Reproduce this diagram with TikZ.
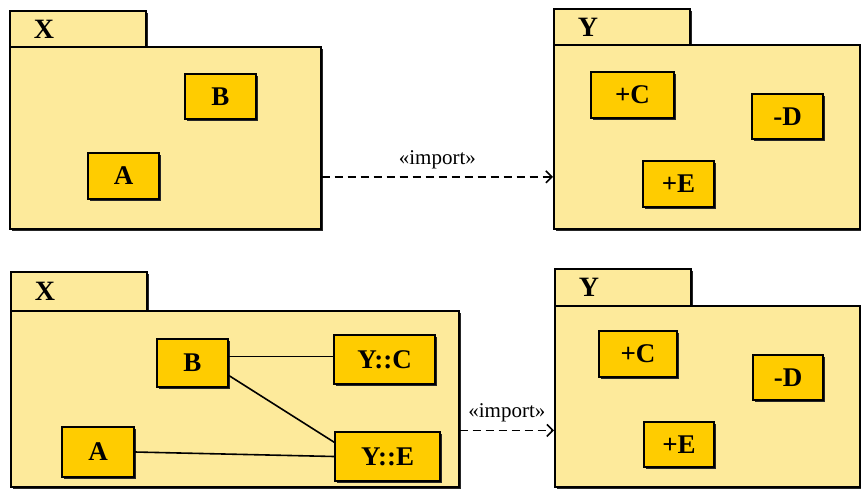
\documentclass[tikz,border=0pt]{standalone}
\usepackage{fontspec}
\setmainfont{Liberation Serif}
\usetikzlibrary{positioning, arrows.meta, shadows}
\definecolor{pkgfill}{RGB}{253,234,155}
\definecolor{clsfill}{RGB}{255,204,0}
\tikzset{
	shade box/.style={drop shadow={opacity=1, fill=black!85, shadow xshift=2pt, shadow yshift=-2pt}},
	pkgtab/.style={draw, line width=1.7pt, fill=pkgfill, anchor=north west, minimum height=#1, text width=88pt, inner xsep=24pt, align=left, font=\fontsize{28}{28}\selectfont\bfseries, shade box},
	pkgbody/.style 2 args={draw, line width=1.7pt, fill=pkgfill, anchor=north west, minimum width=#1, minimum height=#2, shade box},
	cls/.style 2 args={draw, line width=1.8pt, fill=clsfill, minimum width=#1, minimum height=#2, inner sep=0pt, font=\fontsize{27}{27}\selectfont\bfseries, shade box},
	imp/.style={line width=1.6pt, dash pattern=on 8pt off 5pt, -{Straight Barb[length=6pt,width=12pt]}},
	lnk/.style={line width=1.6pt},
}
\begin{document}
\begin{tikzpicture}[x=1pt, y=-1pt]
	\useasboundingbox (0,0) rectangle (861,489);
	\node[pkgtab=36pt] (X1tab) at (9,10) {X};
	\node[pkgbody={311pt}{182pt}] (X1) at (9,46) {};
	\node[pkgtab=36pt] (Y1tab) at (553,8) {Y};
	\node[pkgbody={306pt}{184pt}] (Y1) at (553,44) {};
	\node[cls={71pt}{45pt}] (b1) at (220.5,96.5) {B};
	\node[cls={71pt}{46pt}] (a1) at (123.5,176) {A};
	\node[cls={83pt}{46pt}] (c1) at (632.5,95) {+C};
	\node[cls={71pt}{45pt}] (d1) at (787.5,116.5) {-D};
	\node[cls={71pt}{46pt}] (e1) at (678.5,184) {+E};
	\draw[imp] (X1.-14.4) -- (Y1.west |- X1.-14.4) node[midway, above=4pt, font=\fontsize{21}{21}\selectfont] {«import»};

	\node[pkgtab=39pt] (X2tab) at (10,271) {X};
	\node[pkgbody={448pt}{176pt}] (X2) at (10,310) {};
	\node[pkgtab=37pt] (Y2tab) at (554,268) {Y};
	\node[pkgbody={305pt}{181pt}] (Y2) at (554,305) {};
	\node[cls={71pt}{48pt}] (b2) at (192.5,363) {B};
	\node[cls={101pt}{49pt}] (yc2) at (384.5,359.5) {Y::C};
	\node[cls={72pt}{50pt}] (a2) at (98,452) {A};
	\node[cls={105pt}{49pt}] (ye2) at (387.5,456.5) {Y::E};
	\node[cls={78pt}{46pt}] (c2) at (638,354) {+C};
	\node[cls={70pt}{45pt}] (d2) at (788,377.5) {-D};
	\node[cls={70pt}{45pt}] (e2) at (679,444.5) {+E};
	\draw[lnk] (b2.10) -- (yc2.west |- b2.10);
	\draw[lnk] (b2.-19) -- (ye2.165);
	\draw[lnk] (a2.east) -- (ye2.west);
	\draw[imp] (X2.-8.1) -- (Y2.west |- X2.-8.1) node[midway, above=4pt, font=\fontsize{21}{21}\selectfont] {«import»};
\end{tikzpicture}
\end{document}
